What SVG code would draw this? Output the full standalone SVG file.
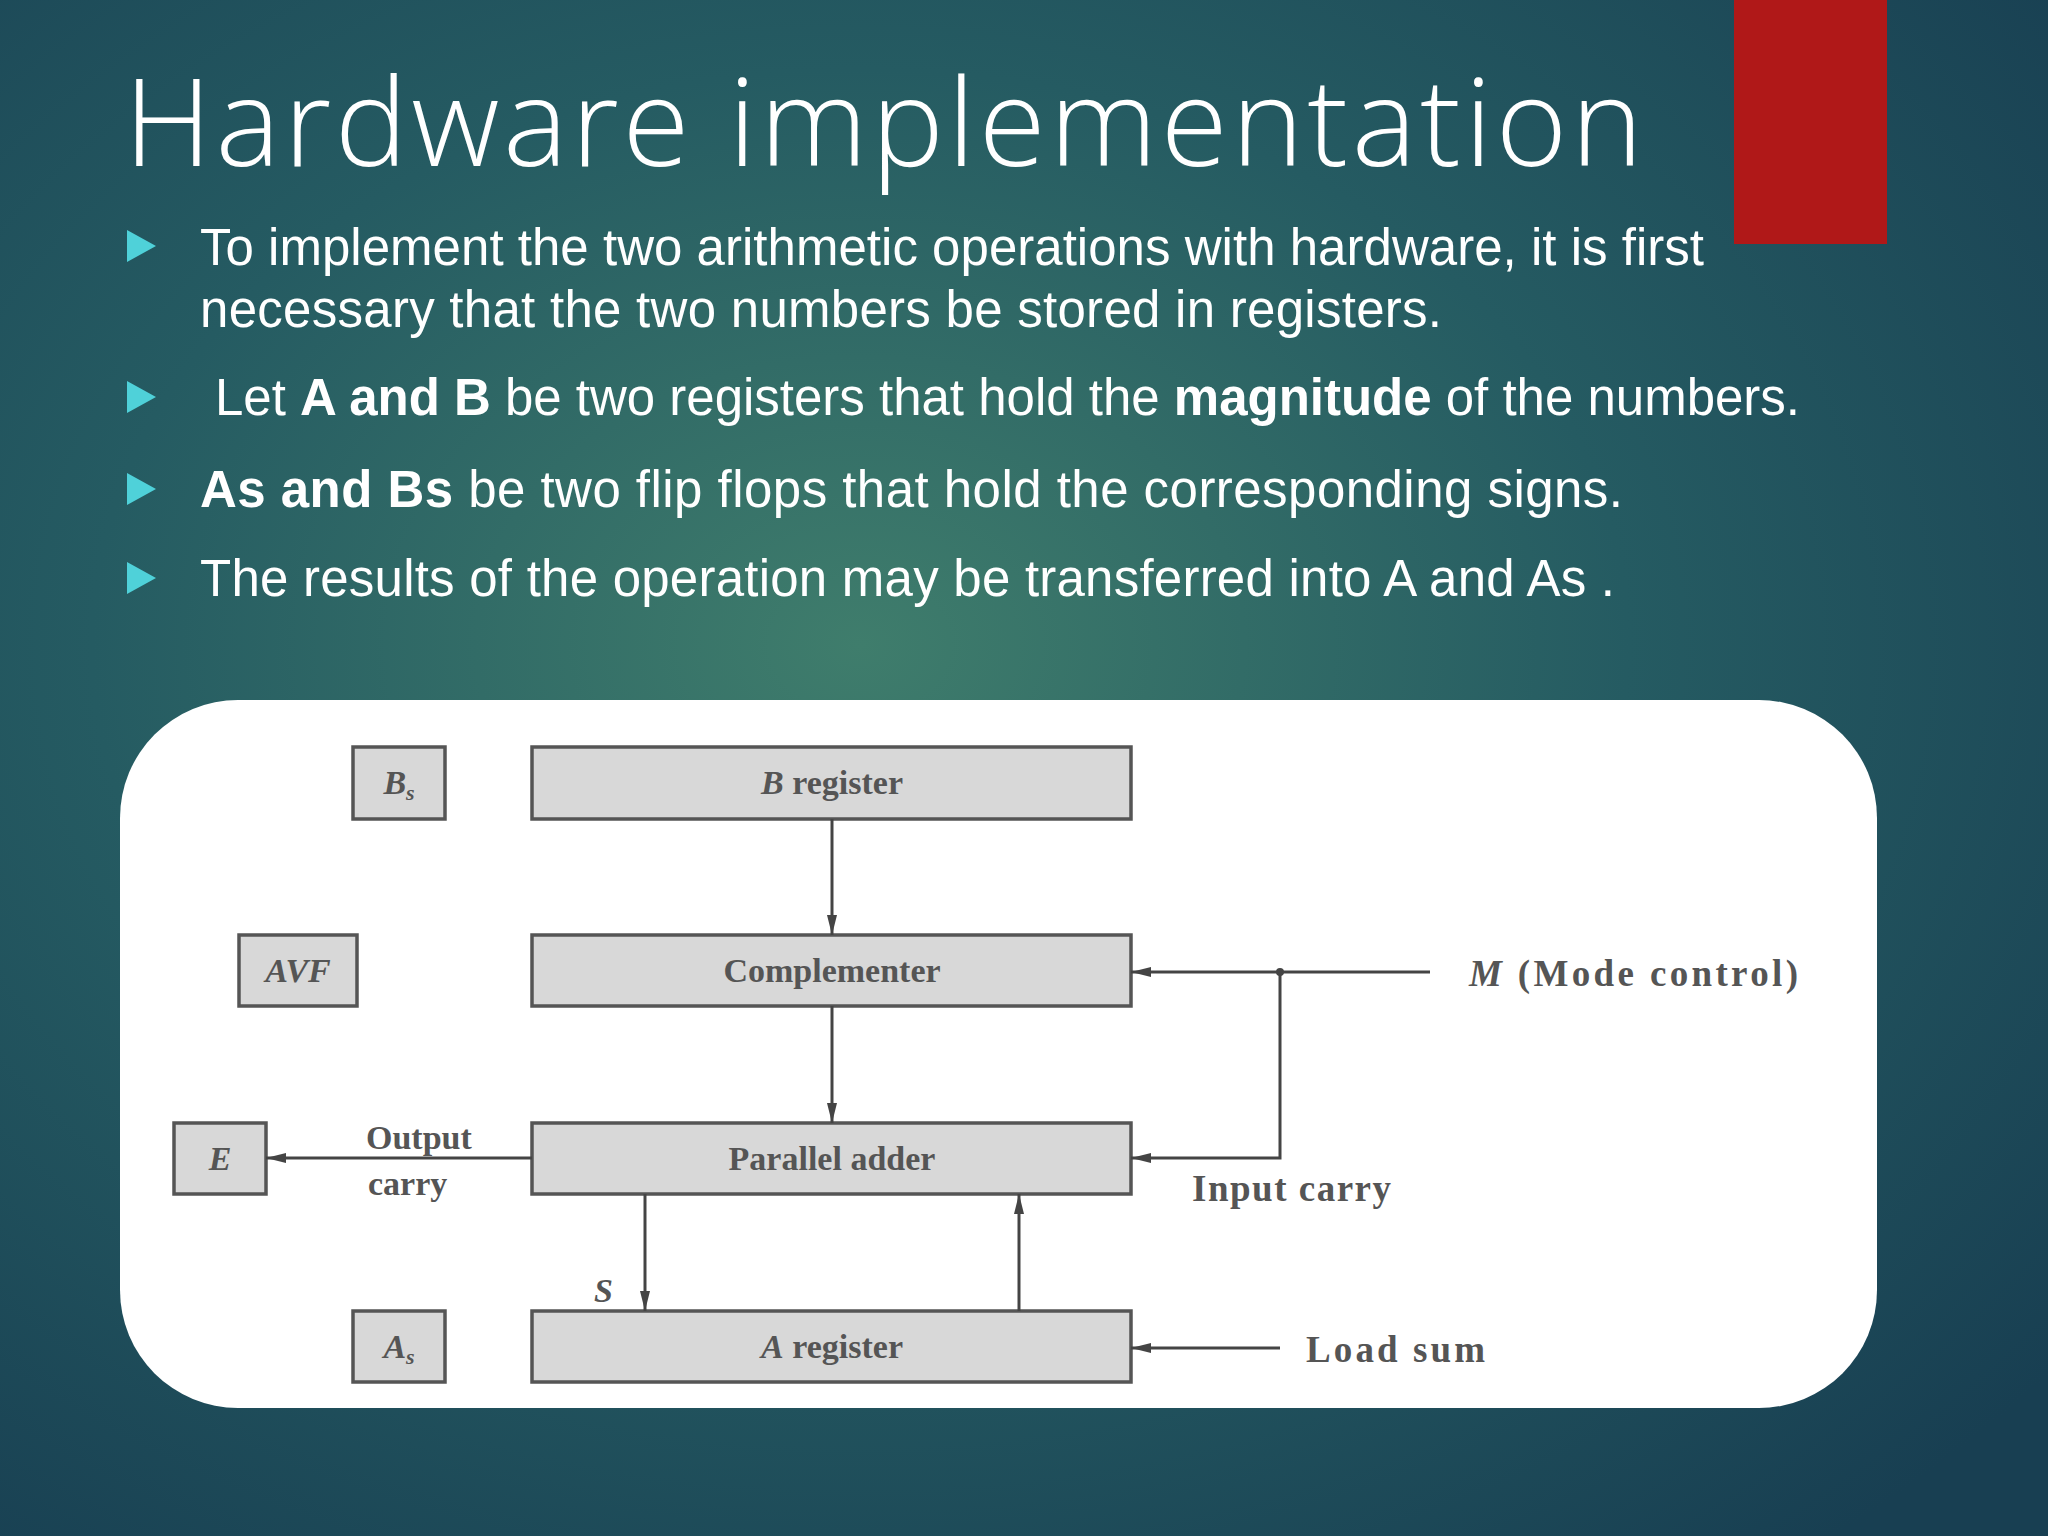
<svg xmlns="http://www.w3.org/2000/svg" width="2048" height="1536" viewBox="0 0 2048 1536">
<defs>
<radialGradient id="bg" cx="0.42" cy="0.42" r="0.75">
<stop offset="0" stop-color="#3f7d6c"/>
<stop offset="0.5" stop-color="#255b62"/>
<stop offset="1" stop-color="#183f52"/>
</radialGradient>
<marker id="a" viewBox="0 0 10 10" refX="10" refY="5" markerWidth="20" markerHeight="20" orient="auto" markerUnits="userSpaceOnUse"><path d="M0,2.5 L10,5 L0,7.5 z" fill="#444"/></marker>
</defs>
<style>
.b{fill:#d8d8d8;stroke:#555;stroke-width:3.5}
.t{font-family:"Liberation Serif",serif;font-size:34px;fill:#555;font-weight:bold}
.t2{font-family:"Liberation Serif",serif;font-size:37px;fill:#555;font-weight:bold}
.ti{font-family:"Liberation Serif",serif;font-size:34px;fill:#555;font-weight:bold;font-style:italic}
.w{font-family:"Liberation Sans",sans-serif;font-size:51px;fill:#fff}
.c{stroke:#444;stroke-width:3;fill:none}
</style>
<rect width="2048" height="1536" fill="url(#bg)"/>
<rect x="1734" y="0" width="153" height="244" fill="#b01818"/>
<text x="124" y="166" font-family="'Open Sans',sans-serif" font-weight="300" font-size="122" fill="#fff" textLength="1519">Hardware implementation</text>
<g fill="#4fd1d9">
<path d="M127,230 L156,246 L127,262z"/>
<path d="M127,381 L156,397 L127,413z"/>
<path d="M127,473 L156,489 L127,505z"/>
<path d="M127,562 L156,578 L127,594z"/>
</g>
<text class="w" x="200" y="265" textLength="1504">To implement the two arithmetic operations with hardware, it is first</text>
<text class="w" x="200" y="327" textLength="1242">necessary  that the two numbers be stored in registers.</text>
<text class="w" x="215" y="415" textLength="1585">Let <tspan font-weight="bold">A and B</tspan> be two registers that hold the <tspan font-weight="bold">magnitude</tspan> of the numbers.</text>
<text class="w" x="200" y="507" textLength="1423"><tspan font-weight="bold">As and Bs</tspan> be two flip  flops that hold  the corresponding signs.</text>
<text class="w" x="200" y="596" textLength="1415">The results of the operation may be transferred  into A and As .</text>
<rect x="120" y="700" width="1757" height="708" rx="118" fill="#fff"/>
<g id="bs"><rect class="b" x="353" y="747" width="92" height="72"/><text class="ti" x="399" y="794" text-anchor="middle">B<tspan font-size="22" dy="6">s</tspan></text></g>
<g id="breg"><rect class="b" x="532" y="747" width="599" height="72"/><text class="t" x="832" y="794" text-anchor="middle"><tspan font-style="italic">B</tspan> register</text></g>
<g id="avf"><rect class="b" x="239" y="935" width="118" height="71"/><text class="ti" x="298" y="982" text-anchor="middle">AVF</text></g>
<g id="comp"><rect class="b" x="532" y="935" width="599" height="71"/><text class="t" x="832" y="982" text-anchor="middle">Complementer</text></g>
<g id="e"><rect class="b" x="174" y="1123" width="92" height="71"/><text class="ti" x="220" y="1170" text-anchor="middle">E</text></g>
<g id="pa"><rect class="b" x="532" y="1123" width="599" height="71"/><text class="t" x="832" y="1170" text-anchor="middle">Parallel adder</text></g>
<g id="as"><rect class="b" x="353" y="1311" width="92" height="71"/><text class="ti" x="399" y="1358" text-anchor="middle">A<tspan font-size="22" dy="6">s</tspan></text></g>
<g id="areg"><rect class="b" x="532" y="1311" width="599" height="71"/><text class="t" x="832" y="1358" text-anchor="middle"><tspan font-style="italic">A</tspan> register</text></g>
<g id="connectors">
<line class="c" x1="832" y1="819" x2="832" y2="935" marker-end="url(#a)"/>
<line class="c" x1="832" y1="1006" x2="832" y2="1123" marker-end="url(#a)"/>
<line class="c" x1="1430" y1="972" x2="1131" y2="972" marker-end="url(#a)"/>
<polyline class="c" points="1280,972 1280,1158 1131,1158" marker-end="url(#a)"/>
<circle cx="1280" cy="972" r="4" fill="#444"/>
<line class="c" x1="532" y1="1158" x2="266" y2="1158" marker-end="url(#a)"/>
<line class="c" x1="645" y1="1194" x2="645" y2="1311" marker-end="url(#a)"/>
<line class="c" x1="1019" y1="1311" x2="1019" y2="1194" marker-end="url(#a)"/>
<line class="c" x1="1280" y1="1348" x2="1131" y2="1348" marker-end="url(#a)"/>
</g>
<text class="t2" x="1469" y="986" textLength="329"><tspan font-style="italic">M</tspan> (Mode control)</text>
<text class="t2" x="1192" y="1201" textLength="199">Input carry</text>
<text class="t" x="366" y="1149">Output</text>
<text class="t" x="368" y="1195">carry</text>
<text class="ti" x="594" y="1302">S</text>
<text class="t2" x="1306" y="1362" textLength="179">Load sum</text>
</svg>
